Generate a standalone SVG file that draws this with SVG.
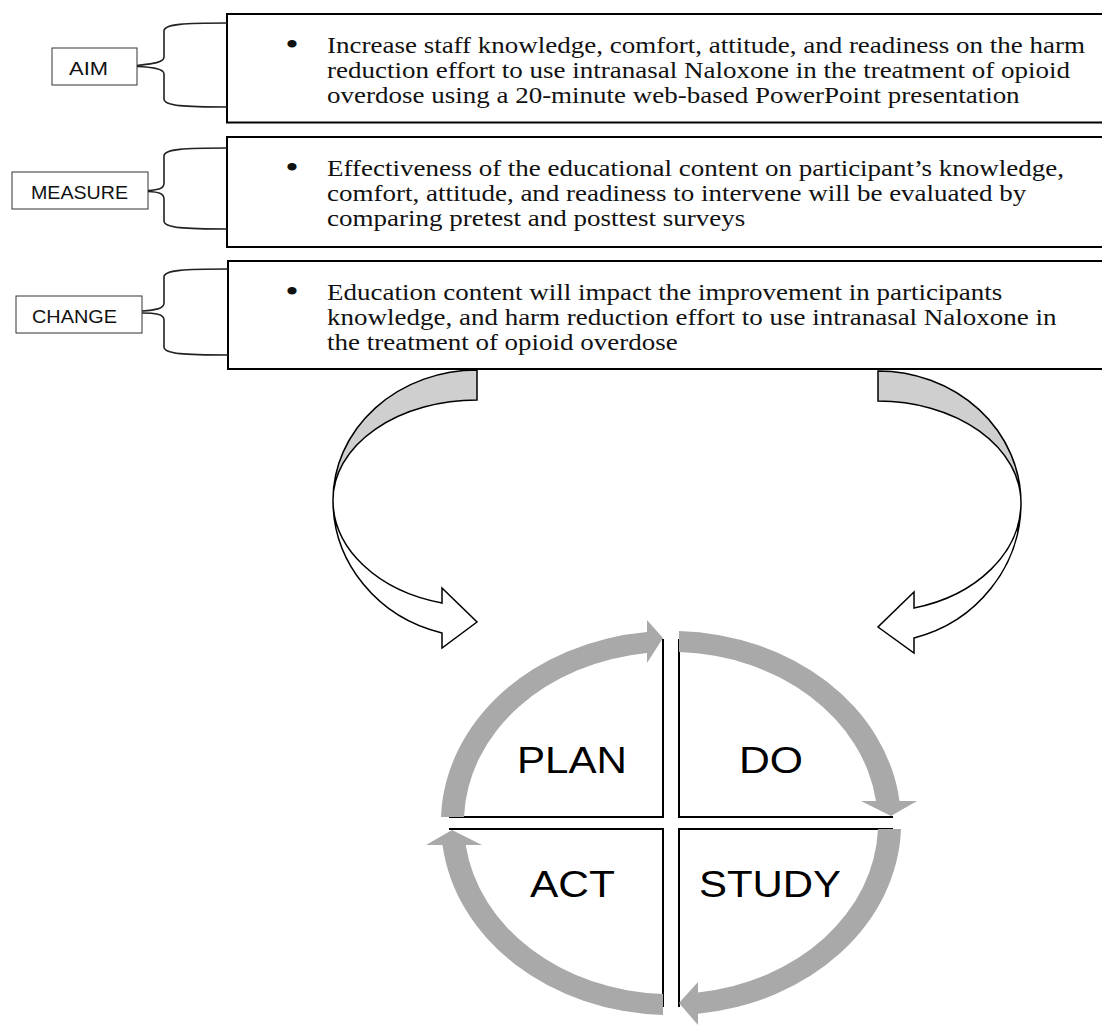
<svg xmlns="http://www.w3.org/2000/svg" width="1102" height="1025" viewBox="0 0 1102 1025">
<style>
.box{fill:#fff;stroke:#000;stroke-width:2}
.lbl{fill:#fff;stroke:#333;stroke-width:1}
.lt{font-family:"Liberation Sans",Arial,sans-serif;font-size:17.5px;fill:#111}
.bt{font-family:"Liberation Serif","Times New Roman",serif;font-size:22.5px;fill:#111}
.bul{font-family:"Liberation Serif","Times New Roman",serif;font-size:32px;fill:#111;text-anchor:middle}
.br{fill:none;stroke:#222;stroke-width:1.6}
.q{fill:none;stroke:#000;stroke-width:2}
.ring{fill:#a9a9a9}
.ca{stroke:#000;stroke-width:1.5;stroke-linejoin:miter}
.pd{font-family:"Liberation Sans",Arial,sans-serif;font-size:36px;fill:#000}
</style>
<rect width="1102" height="1025" fill="#fff"/>

<g id="aim">
<rect class="box" x="227" y="14" width="900" height="108.5"/>
<g transform="scale(1.2 1)">
<text class="bul" x="243.3" y="55">•</text>
<text class="bt" x="272.5" y="53">Increase staff knowledge, comfort, attitude, and readiness on the harm</text>
<text class="bt" x="272.5" y="78">reduction effort to use intranasal Naloxone in the treatment of opioid</text>
<text class="bt" x="272.5" y="103">overdose using a 20-minute web-based PowerPoint presentation</text>
</g>
</g>
<g id="measure">
<rect class="box" x="227" y="137" width="900" height="110"/>
<g transform="scale(1.2 1)">
<text class="bul" x="243.3" y="178">•</text>
<text class="bt" x="272.5" y="176">Effectiveness of the educational content on participant’s knowledge,</text>
<text class="bt" x="272.5" y="201">comfort, attitude, and readiness to intervene will be evaluated by</text>
<text class="bt" x="272.5" y="226">comparing pretest and posttest surveys</text>
</g>
</g>
<g id="change">
<rect class="box" x="228" y="261" width="900" height="108"/>
<g transform="scale(1.2 1)">
<text class="bul" x="243.3" y="302">•</text>
<text class="bt" x="272.5" y="300">Education content will impact the improvement in participants</text>
<text class="bt" x="272.5" y="325">knowledge, and harm reduction effort to use intranasal Naloxone in</text>
<text class="bt" x="272.5" y="350">the treatment of opioid overdose</text>
</g>
</g>

<g id="label-aim">
<rect class="lbl" x="52" y="48" width="85" height="37"/>
<text class="lt" x="69" y="75" textLength="39" lengthAdjust="spacingAndGlyphs">AIM</text>
</g>
<g id="label-measure">
<rect class="lbl" x="12" y="172" width="136" height="37"/>
<text class="lt" x="31" y="199" textLength="97" lengthAdjust="spacingAndGlyphs">MEASURE</text>
</g>
<g id="label-change">
<rect class="lbl" x="16" y="296" width="126" height="37"/>
<text class="lt" x="32" y="323" textLength="85" lengthAdjust="spacingAndGlyphs">CHANGE</text>
</g>

<g id="connectors">
<path class="br" d="M227 23 C185 23 164 24 164 31 L164 57 C164 63 150 64 137 65.5 M137 66.5 C150 67 164 68 164 74 L164 99 C164 106 185 107 227 107"/>
<path class="br" d="M227 148 C185 148 164 149 164 156 L164 183 C164 189 158 190 148 190.5 M148 191.5 C158 192 164 193 164 199 L164 221 C164 228 185 229 227 229"/>
<path class="br" d="M228 269 C185 269 164 270 164 277 L164 303 C164 309 155 310 142 311 M142 313 C155 313 164 314 164 320 L164 347 C164 354 185 355 228 355"/>
<g id="curved-arrow-left">
<path class="ca" fill="#cfcfcf" d="M477 370 A144 130 0 0 0 333 500 A144 100 0 0 1 477 400 Z"/>
<path class="ca" fill="#fff" d="M333 500 A144 137 0 0 0 442 633 L442 648 L477 622 L442 588 L442 603 A144 106 0 0 1 333 500 Z"/>
</g>
<g id="curved-arrow-right">
<path class="ca" fill="#cfcfcf" d="M878 371 A143 132 0 0 1 1021 503 A143 102 0 0 0 878 401 Z"/>
<path class="ca" fill="#fff" d="M1021 503 A143 140 0 0 1 914 638 L914 653 L878 627 L914 592 L914 608 A143 109 0 0 0 1021 503 Z"/>
</g>
</g>

<g id="pdsa">
<g id="plan">
<path class="q" d="M449 817 H663 V639"/>
<path class="ring" d="M441 817 A230 192 0 0 1 647 632 L647 620 L663 638 L647 663 L647 653 A207 171 0 0 0 464 817 Z"/>
<text class="pd" x="517" y="773" textLength="110" lengthAdjust="spacingAndGlyphs">PLAN</text>
</g>
<g id="do">
<path class="q" d="M679 639 V817 H893"/>
<path class="ring" d="M679 631 A230 192 0 0 1 899.5 801 L917 801 L891 816 L861 801 L876 801 A207 171 0 0 0 679 652 Z"/>
<text class="pd" x="739" y="773" textLength="64" lengthAdjust="spacingAndGlyphs">DO</text>
</g>
<g id="study">
<path class="q" d="M893 829 H679 V1007"/>
<path class="ring" d="M901 829 A230 192 0 0 1 698 1013.7 L698 1025 L679 1003 L698 982 L698 992.5 A207 171 0 0 0 878 829 Z"/>
<text class="pd" x="699" y="897" textLength="142" lengthAdjust="spacingAndGlyphs">STUDY</text>
</g>
<g id="act">
<path class="q" d="M449 829 H663 V1007"/>
<path class="ring" d="M663 1015 A230 192 0 0 1 442.5 845 L426 845 L452 830 L482 845 L465.7 845 A207 171 0 0 0 663 994 Z"/>
<text class="pd" x="530" y="897" textLength="85" lengthAdjust="spacingAndGlyphs">ACT</text>
</g>
</g>
</svg>
